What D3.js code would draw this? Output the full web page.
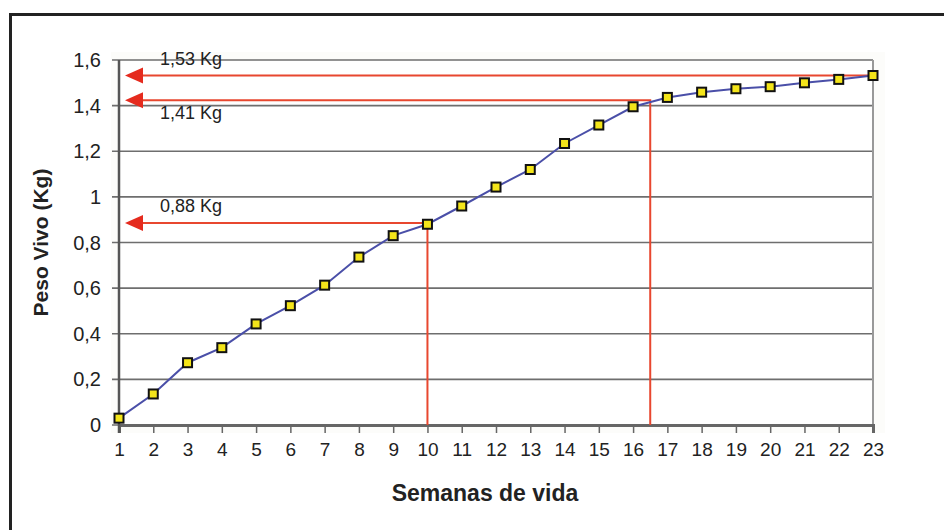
<!DOCTYPE html>
<html><head><meta charset="utf-8">
<script src="https://cdn.jsdelivr.net/npm/d3@7"></script>
<style>body{margin:0;background:#fff}svg{display:block}text{font-family:"Liberation Sans",Arial,sans-serif}</style>
</head><body>
<svg id="c" width="944" height="530"></svg>
<script>
const weeks = d3.range(1, 24);
const peso = [0.03,0.136,0.273,0.339,0.443,0.523,0.613,0.736,0.83,0.88,0.96,1.043,1.12,1.234,1.315,1.395,1.436,1.459,1.474,1.483,1.50,1.515,1.532];
const yTicks = [0,0.2,0.4,0.6,0.8,1,1.2,1.4,1.6];
const markers = [
  {label:"1,53 Kg", value:1.532, week:23, drop:false, labelPos:"above"},
  {label:"1,41 Kg", value:1.424, week:16.5, drop:true, labelPos:"below"},
  {label:"0,88 Kg", value:0.886, week:10, drop:true, labelPos:"above"}
];
const xTitle = "Semanas de vida", yTitle = "Peso Vivo (Kg)";

const svg = d3.select("#c");
const L=119, R=873, T=60, B=425;
const x = d3.scaleLinear().domain([1,23]).range([L,R]);
const y = d3.scaleLinear().domain([0,1.6]).range([B,T]);
const fmt = d => String(d).replace(".", ",");

// outer frame
svg.append("path").attr("d","M10.5,532 V14.5 H950").attr("fill","none").attr("stroke","#222").attr("stroke-width",3);
svg.append("rect").attr("x",L-8).attr("y",T-8).attr("width",R-L+20).attr("height",B-T+16).attr("fill","#fcfcfa");
svg.append("rect").attr("x",L).attr("y",T).attr("width",R-L).attr("height",B-T).attr("fill","#fff");

// gridlines
svg.append("g").selectAll("line").data(yTicks).join("line")
  .attr("x1",L-7).attr("x2",R).attr("y1",d=>y(d)).attr("y2",d=>y(d))
  .attr("stroke","#6e6e6e").attr("stroke-width",1.6);
// right border
svg.append("line").attr("x1",R).attr("x2",R).attr("y1",T).attr("y2",B).attr("stroke","#999").attr("stroke-width",2);

// y axis labels
svg.append("g").selectAll("text").data(yTicks).join("text")
  .attr("x",101).attr("y",d=>y(d)).attr("dy","0.35em").attr("text-anchor","end")
  .attr("font-size",20).attr("fill","#222").text(fmt);

// x axis
const xAxis = d3.axisBottom(x).tickValues(weeks).tickSize(8).tickPadding(8).tickFormat(d=>d);
const gx = svg.append("g").attr("transform",`translate(0,${B})`).call(xAxis);
gx.select(".domain").attr("stroke","#666").attr("stroke-width",3);
gx.selectAll(".tick line").attr("stroke","#666").attr("stroke-width",1.5);
gx.selectAll(".tick text").attr("font-size",19).attr("fill","#222").attr("font-family","'Liberation Sans',Arial,sans-serif").attr("dy","0.8em");
// y axis line
svg.append("line").attr("x1",L).attr("x2",L).attr("y1",T).attr("y2",B+8).attr("stroke","#555").attr("stroke-width",2.5);

// red reference lines
const red = "#e8472f";
markers.forEach(m=>{
  const yy = y(m.value), xx = x(m.week);
  svg.append("path").attr("d",`M${L+22},${yy} H${xx}` + (m.drop ? ` V${B}` : ""))
    .attr("fill","none").attr("stroke",red).attr("stroke-width",2);
  svg.append("path").attr("d",`M${L+6},${yy} L${L+24},${yy-8} L${L+24},${yy+8} Z`).attr("fill","#e52b1e");
  svg.append("text").attr("x",L+41).attr("y", m.labelPos==="above"? yy-11 : yy+19)
    .attr("font-size",18).attr("fill","#222").text(m.label);
});

// data line
svg.append("path").datum(peso)
  .attr("d", d3.line().x((d,i)=>x(weeks[i])).y(d=>y(d)))
  .attr("fill","none").attr("stroke","#4a4fa8").attr("stroke-width",2);
svg.append("g").selectAll("rect").data(peso).join("rect")
  .attr("x",(d,i)=>x(weeks[i])-4.5).attr("y",d=>y(d)-4.5).attr("width",9).attr("height",9)
  .attr("fill","#f4e51a").attr("stroke","#111").attr("stroke-width",2);

// titles
svg.append("text").attr("x",485).attr("y",501).attr("text-anchor","middle")
  .attr("font-size",23).attr("font-weight","bold").attr("fill","#222").text(xTitle);
svg.append("text").attr("transform",`translate(48,${(T+B)/2}) rotate(-90)`).attr("text-anchor","middle")
  .attr("font-size",21).attr("font-weight","bold").attr("fill","#222").text(yTitle);
</script>
</body></html>
